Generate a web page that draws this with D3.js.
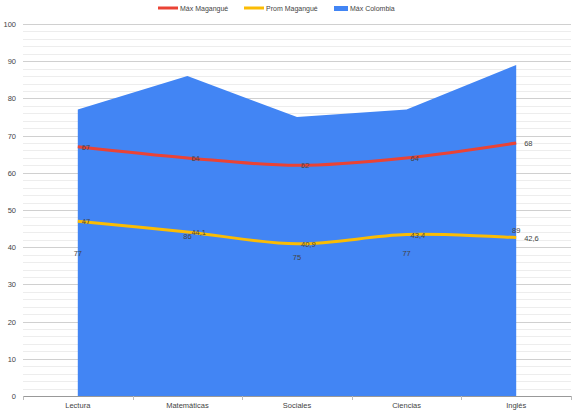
<!DOCTYPE html>
<html>
<head>
<meta charset="utf-8">
<script src="https://cdn.jsdelivr.net/npm/d3@7"></script>
<style>
  body { margin: 0; background: #fff; }
  text { font-family: Arial, "Liberation Sans", sans-serif; }
</style>
</head>
<body>
<div class="chart"></div>
<script>
// subjects along the x axis
var categories = ["Lectura", "Matemáticas", "Sociales", "Ciencias", "Inglés"];
var maxColombia = [77, 86, 75, 77, 89];
var maxMagangue = [67, 64, 62, 64, 68];
var promMagangue = [47, 44.1, 40.9, 43.4, 42.6];
var yTicks = [0, 10, 20, 30, 40, 50, 60, 70, 80, 90, 100];
var seriesNames = ["Máx Magangué", "Prom Magangué", "Máx Colombia"];

var width = 580, height = 419;
var plotLeft = 23, plotRight = 571, plotTop = 24, plotBottom = 396;
var fontSize = 7.5;

var svg = d3.select(".chart").append("svg")
    .attr("width", width)
    .attr("height", height);

var x = d3.scaleBand().domain(categories).range([plotLeft, plotRight]);
var cx = function(d) { return x(d) + x.bandwidth() / 2; };
var y = d3.scaleLinear().domain([0, 100]).range([plotBottom, plotTop]);

var fmt = function(v) { return String(v).replace(".", ","); };

// minor grid
svg.append("g").selectAll("line")
    .data(d3.range(0, 101, 2).filter(function(v) { return v % 10 != 0; }))
    .enter().append("line")
    .attr("x1", plotLeft).attr("x2", plotRight)
    .attr("y1", function(d) { return Math.round(y(d)) + 0.5; })
    .attr("y2", function(d) { return Math.round(y(d)) + 0.5; })
    .attr("stroke", "#ededed");

// major grid
svg.append("g").selectAll("line")
    .data(yTicks.slice(1))
    .enter().append("line")
    .attr("x1", plotLeft).attr("x2", plotRight)
    .attr("y1", function(d) { return Math.round(y(d)) + 0.5; })
    .attr("y2", function(d) { return Math.round(y(d)) + 0.5; })
    .attr("stroke", "#d0d0d0");

svg.append("g").selectAll("text")
    .data(yTicks)
    .enter().append("text")
    .attr("x", 16)
    .attr("y", function(d) { return y(d) + 3; })
    .attr("text-anchor", "end")
    .attr("font-size", fontSize)
    .attr("fill", "#444")
    .text(function(d) { return d; });

// area
var area = d3.area()
    .x(function(d, i) { return cx(categories[i]); })
    .y0(y(0))
    .y1(function(d) { return y(d); });

svg.append("path")
    .datum(maxColombia)
    .attr("d", area)
    .attr("fill", "#4285f4");

// baseline + ticks
svg.append("line")
    .attr("x1", plotLeft).attr("x2", plotRight)
    .attr("y1", plotBottom + 0.5).attr("y2", plotBottom + 0.5)
    .attr("stroke", "#999");

svg.append("g").selectAll("line")
    .data(categories.concat(["end"]))
    .enter().append("line")
    .attr("x1", function(d, i) { return Math.round(plotLeft + i * x.bandwidth()) + 0.5; })
    .attr("x2", function(d, i) { return Math.round(plotLeft + i * x.bandwidth()) + 0.5; })
    .attr("y1", plotBottom).attr("y2", plotBottom + 4)
    .attr("stroke", "#bbb");

svg.append("g").selectAll("text")
    .data(categories)
    .enter().append("text")
    .attr("x", cx)
    .attr("y", plotBottom + 12)
    .attr("text-anchor", "middle")
    .attr("font-size", fontSize)
    .attr("fill", "#444")
    .text(function(d) { return d; });

// lines
var line = d3.line()
    .x(function(d, i) { return cx(categories[i]); })
    .y(function(d) { return y(d); })
    .curve(d3.curveCatmullRom.alpha(0.5));

svg.append("path")
    .datum(maxMagangue)
    .attr("d", line)
    .attr("fill", "none")
    .attr("stroke", "#ea4335")
    .attr("stroke-width", 3);

svg.append("path")
    .datum(promMagangue)
    .attr("d", line)
    .attr("fill", "none")
    .attr("stroke", "#fbbc04")
    .attr("stroke-width", 3);

// data labels
svg.append("g").selectAll("text")
    .data(maxColombia)
    .enter().append("text")
    .attr("x", function(d, i) { return cx(categories[i]); })
    .attr("y", function(d) { return y(d / 2) + 3; })
    .attr("text-anchor", "middle")
    .attr("font-size", fontSize)
    .attr("fill", "#444")
    .text(fmt);

[maxMagangue, promMagangue].forEach(function(s) {
    svg.append("g").selectAll("text")
        .data(s)
        .enter().append("text")
        .attr("x", function(d, i) { return cx(categories[i]) + (i == 4 ? 8 : 4); })
        .attr("y", function(d) { return y(d) + 3; })
        .attr("font-size", fontSize)
        .attr("fill", "#444")
        .text(fmt);
});

// legend
var legend = svg.append("g");
var lx = [158, 244, 334];
var lw = [20, 20, 14];
var colors = ["#ea4335", "#fbbc04", "#4285f4"];
seriesNames.forEach(function(n, i) {
    if (i < 2) {
        legend.append("line")
            .attr("x1", lx[i]).attr("x2", lx[i] + lw[i])
            .attr("y1", 8).attr("y2", 8)
            .attr("stroke", colors[i])
            .attr("stroke-width", 3);
    } else {
        legend.append("rect")
            .attr("x", lx[i]).attr("y", 6)
            .attr("width", lw[i]).attr("height", 5)
            .attr("fill", colors[i]);
    }
    legend.append("text")
        .attr("x", lx[i] + lw[i] + 2)
        .attr("y", 10.5)
        .attr("font-size", 7)
        .attr("fill", "#444")
        .text(n);
});
</script>
</body>
</html>
